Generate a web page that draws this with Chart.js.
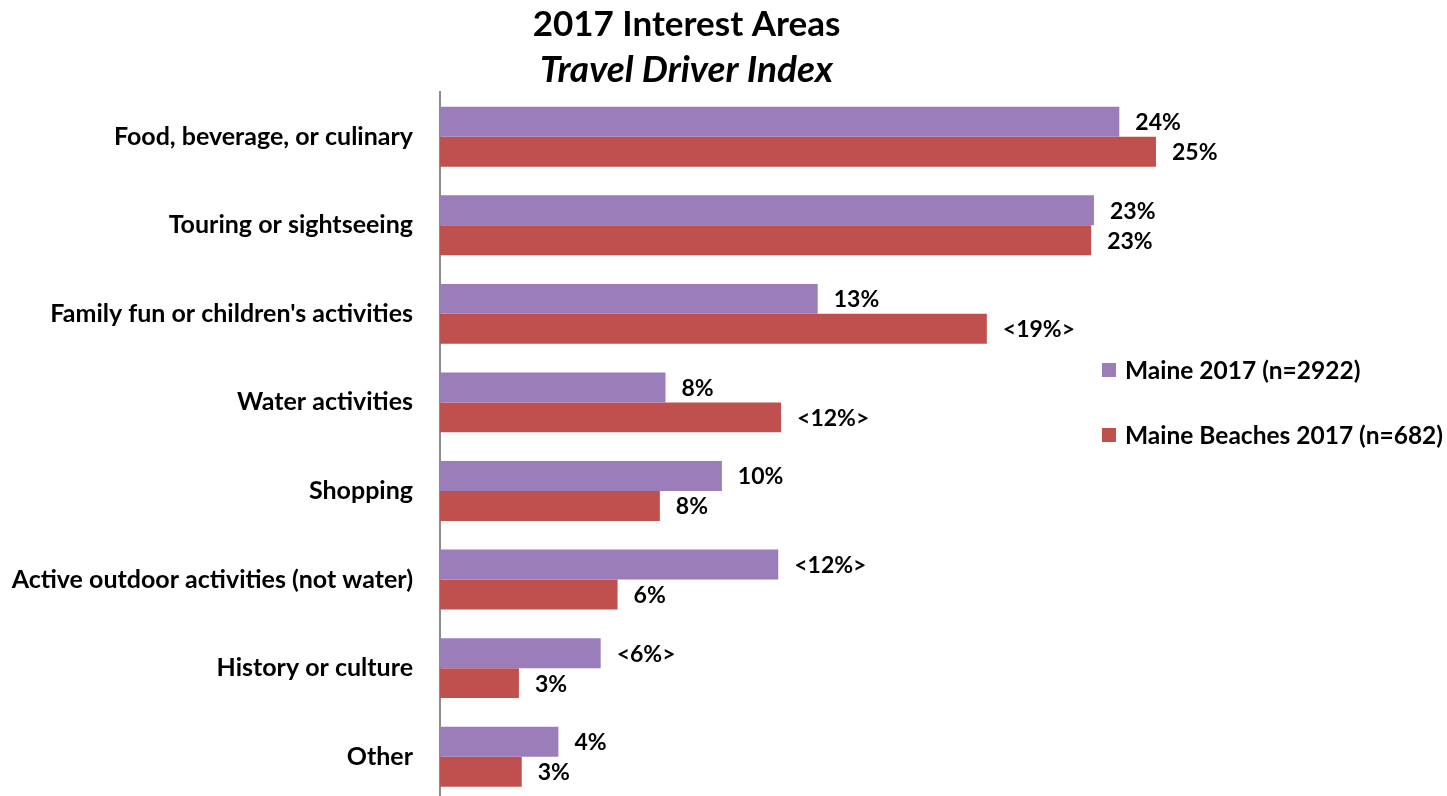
<!DOCTYPE html>
<html>
<head>
<meta charset="utf-8">
<title>2017 Interest Areas</title>
<script src="https://cdn.jsdelivr.net/npm/chart.js@4.4.0/dist/chart.umd.min.js"></script>
<style>
  html, body { margin: 0; padding: 0; background: #fff; overflow: hidden; }
  #wrap { width: 1447px; height: 796px; overflow: hidden; }
  #box { position: relative; width: 1447px; height: 801px; }
</style>
</head>
<body>
<div id="wrap"><div id="box"><canvas id="interestChart"></canvas></div></div>
<script>
// Travel driver interest areas, share of respondents (%)
var categories = [
    'Food, beverage, or culinary',
    'Touring or sightseeing',
    "Family fun or children's activities",
    'Water activities',
    'Shopping',
    'Active outdoor activities (not water)',
    'History or culture',
    'Other'
];
var seriesNames = ['Maine 2017 (n=2922)', 'Maine Beaches 2017 (n=682)'];
var maine2017 = [24.1, 23.2, 13.4, 8.0, 10.0, 12.0, 5.7, 4.2];
var beaches2017 = [25.4, 23.1, 19.4, 12.1, 7.8, 6.3, 2.8, 2.9];
// significant differences get wrapped as <n%>
var maineSignificant = [false, false, false, false, false, true, true, false];
var beachesSignificant = [false, false, true, true, false, false, false, false];

var FONT = 'Lato';

function pctLabel(v, sig) {
    var t = Math.round(v) + '%';
    return sig ? '<' + t + '>' : t;
}

// value labels to the right of each bar
var valueLabels = {
    id: 'valueLabels',
    afterDatasetsDraw: function(chart) {
        var ctx = chart.ctx;
        ctx.save();
        ctx.fillStyle = '#000';
        ctx.font = 'bold 23px ' + FONT;
        ctx.textAlign = 'left';
        ctx.textBaseline = 'middle';
        chart.data.datasets.forEach(function(ds, i) {
            var meta = chart.getDatasetMeta(i);
            meta.data.forEach(function(bar, j) {
                ctx.fillText(pctLabel(ds.data[j], ds.significant[j]), bar.x + 16, bar.y + 1);
            });
        });
        ctx.restore();
    }
};

// legend on the right, spaced out vertically
var sideLegend = {
    id: 'sideLegend',
    afterDraw: function(chart) {
        var ctx = chart.ctx;
        var rows = [370, 435];
        ctx.save();
        ctx.font = 'bold 24.5px ' + FONT;
        ctx.textAlign = 'left';
        ctx.textBaseline = 'middle';
        chart.data.datasets.forEach(function(ds, i) {
            ctx.fillStyle = ds.backgroundColor;
            ctx.fillRect(1102, rows[i] - 7, 14, 14);
            ctx.fillStyle = '#000';
            ctx.fillText(ds.label, 1125, rows[i] + 1);
        });
        ctx.restore();
    }
};

var ctx = document.getElementById('interestChart').getContext('2d');

var chart = new Chart(ctx, {
    type: 'bar',
    data: {
        labels: categories,
        datasets: [{
            label: seriesNames[0],
            data: maine2017,
            significant: maineSignificant,
            backgroundColor: '#9b7db9'
        }, {
            label: seriesNames[1],
            data: beaches2017,
            significant: beachesSignificant,
            backgroundColor: '#c0504d'
        }]
    },
    options: {
        indexAxis: 'y',
        responsive: true,
        maintainAspectRatio: false,
        animation: false,
        barPercentage: 1,
        categoryPercentage: 0.676,
        layout: { padding: { left: 0, right: 74, top: 0, bottom: 0 } },
        scales: {
            x: { display: false, min: 0, max: 33.1 },
            y: {
                grid: { display: false, drawTicks: false },
                border: { display: true, color: '#8c8c8c', width: 2 },
                ticks: {
                    padding: 27,
                    color: '#000',
                    font: { family: FONT, size: 25, weight: 'bold' }
                },
                afterFit: function(scale) {
                    // fixed label column; no extra room above/below the bars
                    scale.width = 440;
                    scale.paddingTop = 0;
                    scale.paddingBottom = 0;
                }
            }
        },
        plugins: {
            legend: { display: false },
            tooltip: { enabled: false },
            title: {
                display: true,
                text: '2017 Interest Areas',
                color: '#000',
                font: { family: FONT, size: 35, weight: 'bold', lineHeight: 1.2 },
                padding: { top: 4, bottom: 0 }
            },
            subtitle: {
                display: true,
                text: 'Travel Driver Index',
                color: '#000',
                font: { family: FONT, size: 37, weight: 'bold', style: 'italic', lineHeight: 1.2 },
                padding: { top: 2, bottom: 0 }
            }
        }
    },
    plugins: [valueLabels, sideLegend]
});
</script>
</body>
</html>
